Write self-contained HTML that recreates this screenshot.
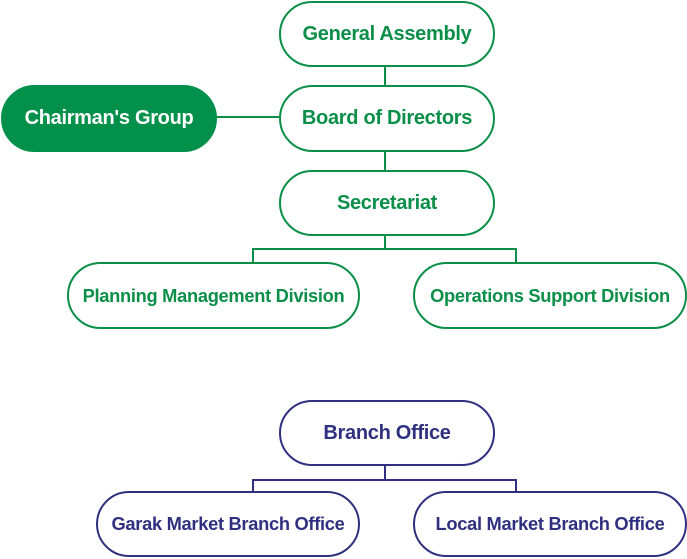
<!DOCTYPE html>
<html><head><style>
body{margin:0;width:687px;height:559px;background:#fff;position:relative;overflow:hidden;font-family:"Liberation Sans",Arial,sans-serif;}
.b{position:absolute;box-sizing:border-box;border:2px solid #0b8f48;border-radius:34px;background:#fff;color:#0b8f48;font-weight:bold;font-size:20px;display:flex;align-items:center;justify-content:center;letter-spacing:-0.3px;white-space:nowrap}
.s{font-size:18.3px;letter-spacing:-0.3px}
.n{border-color:#2f3180;color:#2f3180}
.f{background:#03904a;color:#fff;border-color:#03904a}
</style></head><body>
<svg width="687" height="559" style="position:absolute;left:0;top:0">
<g stroke="#0b8f48" stroke-width="2" fill="none">
<line x1="385" y1="65" x2="385" y2="86"/>
<line x1="385" y1="150" x2="385" y2="171"/>
<line x1="215" y1="117" x2="280" y2="117"/>
<polyline points="385,234 385,249"/>
<polyline points="253,263 253,249 516,249 516,263"/>
</g>
<g stroke="#2f3180" stroke-width="2" fill="none">
<line x1="385" y1="465" x2="385" y2="480"/>
<polyline points="253,492 253,480 516,480 516,492"/>
</g>
</svg>
<div class="b" style="left:279px;top:1px;width:216px;height:66px">General Assembly</div>
<div class="b f" style="left:1px;top:85px;width:216px;height:67px">Chairman's Group</div>
<div class="b" style="left:279px;top:85px;width:216px;height:67px">Board of Directors</div>
<div class="b" style="left:279px;top:170px;width:216px;height:66px">Secretariat</div>
<div class="b s" style="left:67px;top:262px;width:293px;height:67px">Planning Management Division</div>
<div class="b s" style="left:413px;top:262px;width:274px;height:67px">Operations Support Division</div>
<div class="b n" style="left:279px;top:400px;width:216px;height:66px">Branch Office</div>
<div class="b n s" style="left:96px;top:491px;width:264px;height:66px">Garak Market Branch Office</div>
<div class="b n s" style="left:413px;top:491px;width:274px;height:66px">Local Market Branch Office</div>
</body></html>
